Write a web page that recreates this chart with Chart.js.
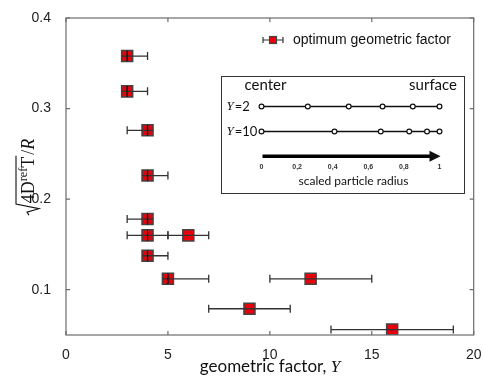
<!DOCTYPE html>
<html>
<head>
<meta charset="utf-8">
<script src="https://cdn.jsdelivr.net/npm/chart.js@4.4.0/dist/chart.umd.min.js"></script>
<style>
  body { margin: 0; background: #fff; }
  #wrap { position: relative; width: 483px; height: 378px; }
  #inset { position: absolute; left: 221px; top: 76px; width: 244px; height: 118px;
           border: 1.5px solid #333; box-sizing: border-box; background: #fff; }
  #inset canvas { display: block; }
</style>
</head>
<body>
<div id="wrap">
  <canvas id="main" width="483" height="378"></canvas>
  <div id="inset"><canvas id="ins" width="241" height="115"></canvas></div>
</div>
<script>
// main chart data
const xValues = [3, 3, 4, 4, 4, 4, 6, 4, 5, 12, 9, 16];
const yValues = [0.358, 0.319, 0.276, 0.226, 0.178, 0.160, 0.160, 0.1375, 0.112, 0.112, 0.079, 0.056];
const xLow    = [3, 3, 3, 4, 3, 3, 5, 4, 5, 10, 7, 13];
const xHigh   = [4, 4, 4, 5, 4, 5, 7, 5, 7, 15, 11, 19];
const xTicks  = [0, 5, 10, 15, 20];
const yTicks  = [0.1, 0.2, 0.3, 0.4];
const legendLabel = 'optimum geometric factor';

// inset data
const radiusTicks = [0, 0.2, 0.4, 0.6, 0.8, 1];
const nodesY2  = [0, 0.26, 0.49, 0.68, 0.85, 1];
const nodesY10 = [0, 0.41, 0.67, 0.83, 0.93, 1];
const rowNames = ['2', '10'];

const FRAME = '#6b6b6b';
const BAR = '#333';

// frame, inward ticks, error bars, legend, axis titles
const mainDeco = {
  id: 'mainDeco',
  afterDatasetsDraw(chart) {
    const { ctx, scales: { x, y } } = chart;
    ctx.save();
    // error bars
    ctx.strokeStyle = BAR;
    ctx.lineWidth = 1.3;
    const half = Math.SQRT1_2 * 7.8;
    xValues.forEach((v, i) => {
      const py = y.getPixelForValue(yValues[i]);
      const p0 = x.getPixelForValue(xLow[i]);
      const p1 = x.getPixelForValue(xHigh[i]);
      const pc = x.getPixelForValue(v);
      ctx.beginPath();
      ctx.moveTo(Math.min(p0, pc - half), py); ctx.lineTo(Math.max(p1, pc + half), py);
      ctx.moveTo(p0, py - 4); ctx.lineTo(p0, py + 4);
      ctx.moveTo(p1, py - 4); ctx.lineTo(p1, py + 4);
      ctx.stroke();
      if (v <= 5) {
        ctx.beginPath();
        ctx.moveTo(pc, py - half); ctx.lineTo(pc, py + half);
        ctx.strokeStyle = '#111';
        ctx.stroke();
        ctx.strokeStyle = BAR;
      }
    });
    ctx.restore();
  },
  afterDraw(chart) {
    const { ctx, chartArea: a, scales: { x, y } } = chart;
    ctx.save();
    ctx.strokeStyle = FRAME;
    ctx.lineWidth = 1.2;
    ctx.strokeRect(a.left, a.top, a.right - a.left, a.bottom - a.top);
    ctx.beginPath();
    xTicks.forEach(t => {
      const px = x.getPixelForValue(t);
      ctx.moveTo(px, a.bottom); ctx.lineTo(px, a.bottom - 4);
      ctx.moveTo(px, a.top); ctx.lineTo(px, a.top + 4);
    });
    yTicks.forEach(t => {
      const py = y.getPixelForValue(t);
      ctx.moveTo(a.left, py); ctx.lineTo(a.left + 4, py);
      ctx.moveTo(a.right, py); ctx.lineTo(a.right - 4, py);
    });
    ctx.stroke();

    // legend
    const lx = 273, ly = 40;
    ctx.strokeStyle = BAR;
    ctx.lineWidth = 1.2;
    ctx.beginPath();
    ctx.moveTo(263, ly); ctx.lineTo(283, ly);
    ctx.moveTo(263, ly - 3); ctx.lineTo(263, ly + 3);
    ctx.moveTo(283, ly - 3); ctx.lineTo(283, ly + 3);
    ctx.stroke();
    ctx.fillStyle = '#e8000b';
    ctx.fillRect(lx - 3.5, ly - 3.5, 7, 7);
    ctx.strokeStyle = '#444';
    ctx.strokeRect(lx - 3.5, ly - 3.5, 7, 7);
    ctx.fillStyle = '#111';
    ctx.font = '14px "Liberation Sans", Arial, sans-serif';
    ctx.textBaseline = 'middle';
    ctx.textAlign = 'left';
    ctx.fillText(legendLabel, 293, ly);

    // x title: geometric factor, Y
    ctx.font = '17px Lato, sans-serif';
    const t1 = 'geometric factor, ';
    const w1 = ctx.measureText(t1).width;
    ctx.font = 'italic 17px "Liberation Serif", serif';
    const w2 = ctx.measureText('Y').width;
    let sx = 270 - (w1 + w2) / 2;
    ctx.textBaseline = 'alphabetic';
    ctx.font = '17px Lato, sans-serif';
    ctx.fillText(t1, sx, 372);
    ctx.font = 'italic 17px "Liberation Serif", serif';
    ctx.fillText('Y', sx + w1, 372);

    // y title: sqrt(4 D^ref T)/R
    ctx.translate(26, 177);
    ctx.rotate(-Math.PI / 2);
    const big = '18px "Liberation Serif", serif';
    const sm = '12px "Liberation Serif", serif';
    const it = 'italic 18px "Liberation Serif", serif';
    ctx.font = big; const wa = ctx.measureText('4D').width;
    ctx.font = sm;  const wb = ctx.measureText('ref').width;
    ctx.font = big; const wc = ctx.measureText('T').width;
    const wd = ctx.measureText('/').width;
    ctx.font = it;  const we = ctx.measureText('R').width;
    const rad = 12;
    const total = rad + wa + wb + wc + 2 + wd + we;
    let cx = -total / 2;
    const base = 8;
    ctx.strokeStyle = '#111';
    ctx.lineWidth = 1.1;
    ctx.beginPath();
    ctx.moveTo(cx, base - 5);
    ctx.lineTo(cx + 3, base - 7);
    ctx.lineTo(cx + 6.5, base + 5);
    ctx.lineTo(cx + 11, base - 18);
    ctx.lineTo(cx + rad + wa + wb + wc + 1, base - 18);
    ctx.stroke();
    cx += rad;
    ctx.fillStyle = '#111';
    ctx.font = big; ctx.fillText('4D', cx, base); cx += wa;
    ctx.font = sm;  ctx.fillText('ref', cx, base - 7); cx += wb;
    ctx.font = big; ctx.fillText('T', cx, base); cx += wc + 2;
    ctx.fillText('/', cx, base); cx += wd;
    ctx.font = it;  ctx.fillText('R', cx, base);
    ctx.restore();
  }
};

new Chart(document.getElementById('main'), {
  type: 'scatter',
  data: {
    datasets: [{
      label: legendLabel,
      data: xValues.map((v, i) => ({ x: v, y: yValues[i] })),
      pointStyle: 'rect',
      pointRadius: 7.8,
      pointHoverRadius: 7.8,
      backgroundColor: '#e8000b',
      borderColor: '#444',
      borderWidth: 1.5
    }]
  },
  options: {
    responsive: false,
    animation: false,
    layout: { padding: { top: 18, right: 7, left: 0, bottom: 0 } },
    plugins: { legend: { display: false }, tooltip: { enabled: false } },
    scales: {
      x: {
        type: 'linear', min: 0, max: 20,
        grid: { display: false }, border: { display: false },
        afterBuildTicks: s => { s.ticks = xTicks.map(v => ({ value: v })); },
        afterFit: s => { s.height = 43; s.paddingLeft = 0; s.paddingRight = 0; },
        ticks: { padding: 4, color: '#222', font: { family: '"Liberation Sans", Arial, sans-serif', size: 14 } }
      },
      y: {
        type: 'linear', min: 0.05, max: 0.4,
        grid: { display: false }, border: { display: false },
        afterBuildTicks: s => { s.ticks = yTicks.map(v => ({ value: v })); },
        afterFit: s => { s.width = 66; s.paddingTop = 0; s.paddingBottom = 0; },
        ticks: { padding: 7, color: '#222', callback: v => v.toFixed(1),
                 font: { family: '"Liberation Sans", Arial, sans-serif', size: 14 } }
      }
    }
  },
  plugins: [mainDeco]
});

// inset chart
const insetDeco = {
  id: 'insetDeco',
  afterDraw(chart) {
    const { ctx, scales: { x, y } } = chart;
    ctx.save();
    ctx.fillStyle = '#111';
    ctx.font = '15px Lato, sans-serif';
    ctx.textBaseline = 'middle';
    ctx.textAlign = 'left';
    ctx.fillText('center', 22.5, 8);
    ctx.textAlign = 'right';
    ctx.fillText('surface', 235, 8);

    // row labels
    rowNames.forEach((n, i) => {
      const py = y.getPixelForValue(1 - i);
      ctx.textAlign = 'left';
      ctx.font = 'italic 13px "Liberation Serif", serif';
      ctx.fillText('Y', 4.5, py);
      const wy = ctx.measureText('Y').width;
      ctx.font = '13px Lato, sans-serif';
      ctx.fillText('=' + n, 4.5 + wy + 1, py);
    });

    // arrow
    const ay = y.getPixelForValue(0) + 24.7;
    const x0 = x.getPixelForValue(0), x1 = x.getPixelForValue(1);
    ctx.strokeStyle = '#000';
    ctx.lineWidth = 3.5;
    ctx.beginPath();
    ctx.moveTo(x0 + 1, ay); ctx.lineTo(x1 - 8, ay);
    ctx.stroke();
    ctx.beginPath();
    ctx.moveTo(x1 + 1, ay); ctx.lineTo(x1 - 10, ay - 5.5); ctx.lineTo(x1 - 10, ay + 5.5);
    ctx.closePath();
    ctx.fill();

    // tick labels
    ctx.font = 'bold 7px "Liberation Sans", Arial, sans-serif';
    ctx.textAlign = 'center';
    ctx.fillStyle = '#333';
    radiusTicks.forEach(t => {
      ctx.fillText(String(t).replace('.', ','), x.getPixelForValue(t), ay + 10.5);
    });
    ctx.fillStyle = '#111';
    ctx.font = '12px Lato, sans-serif';
    ctx.fillText('scaled particle radius', (x0 + x1) / 2 + 3, ay + 25);
    ctx.restore();
  }
};

const nodeStyle = {
  showLine: true,
  borderColor: '#111',
  borderWidth: 1.4,
  pointRadius: 2.4,
  pointBorderWidth: 1.2,
  pointBackgroundColor: '#fff',
  pointBorderColor: '#111',
  clip: false
};

new Chart(document.getElementById('ins'), {
  type: 'scatter',
  data: {
    datasets: [
      Object.assign({ data: nodesY2.map(v => ({ x: v, y: 1 })) }, nodeStyle),
      Object.assign({ data: nodesY10.map(v => ({ x: v, y: 0 })) }, nodeStyle)
    ]
  },
  options: {
    responsive: false,
    animation: false,
    layout: { padding: { left: 39.5, right: 23.5, top: 24.5, bottom: 10.5 } },
    plugins: { legend: { display: false }, tooltip: { enabled: false } },
    scales: {
      x: { type: 'linear', min: 0, max: 1, display: false },
      y: { type: 'linear', min: -2, max: 1.2, display: false }
    }
  },
  plugins: [insetDeco]
});
</script>
</body>
</html>
